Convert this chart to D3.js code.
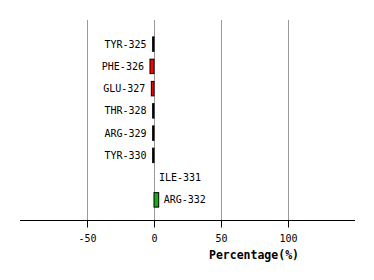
<!DOCTYPE html>
<html>
<head>
<meta charset="utf-8">
<script src="https://d3js.org/d3.v7.min.js"></script>
<style>
  body{ margin:0; background:#fff; }
  text{ font-family:"DejaVu Sans Mono", monospace; }
</style>
</head>
<body>
<script>
var residues = ["TYR-325","PHE-326","GLU-327","THR-328","ARG-329","TYR-330","ILE-331","ARG-332"];
var values   = [-1, -3, -2, -1, -1, -1, 0, 3.5];
var colors   = ["black","red","red","black","black","black","black","#12b012"];
var ticks    = [-50, 0, 50, 100];

var svg = d3.select("body").append("svg")
  .attr("width", 374)
  .attr("height", 280);

var x = d3.scaleLinear().domain([-100, 150]).range([20, 355]);
var y = d3.scaleBand().domain(residues).range([33, 211])
  .paddingInner(0.35).paddingOuter(0.175);

// grid
svg.selectAll("line.grid").data(ticks).enter().append("line")
  .attr("class","grid")
  .attr("x1", function(d){ return Math.round(x(d)) + 0.5; })
  .attr("x2", function(d){ return Math.round(x(d)) + 0.5; })
  .attr("y1", 20).attr("y2", 220)
  .attr("stroke", "#999").attr("stroke-width", 1);

// bars
svg.selectAll("rect.bar").data(residues).enter().append("rect")
  .attr("class","bar")
  .attr("x", function(d,i){ return x(Math.min(0, values[i])); })
  .attr("y", function(d){ return y(d); })
  .attr("width", function(d,i){ return Math.abs(x(values[i]) - x(0)); })
  .attr("height", y.bandwidth())
  .attr("fill", function(d,i){ return colors[i]; })
  .attr("stroke", "black").attr("stroke-width", 1);

// labels
svg.selectAll("text.lab").data(residues).enter().append("text")
  .attr("class","lab")
  .attr("x", function(d,i){ return values[i] < 0 ? x(values[i]) - 6 : x(values[i]) + 5; })
  .attr("y", function(d){ return y(d) + y.bandwidth()/2; })
  .attr("dy", "0.35em")
  .attr("text-anchor", function(d,i){ return values[i] < 0 ? "end" : "start"; })
  .attr("font-size", "10px")
  .text(function(d){ return d; });

// x axis
var axis = svg.append("g")
  .attr("transform", "translate(0,220.5)")
  .call(d3.axisBottom(x).tickValues(ticks).tickSize(7).tickPadding(7)
    .tickFormat(function(d){ return String(d); }));
axis.select(".domain").attr("d", "M20,0H355");
axis.selectAll("text").attr("font-size", "10px").attr("font-family", "DejaVu Sans Mono");
axis.selectAll(".tick line").attr("stroke", "black");

svg.append("text")
  .attr("x", 254).attr("y", 259)
  .attr("text-anchor", "middle")
  .attr("font-size", "11.5px").attr("font-weight", "bold")
  .text("Percentage(%)");
</script>
</body>
</html>
